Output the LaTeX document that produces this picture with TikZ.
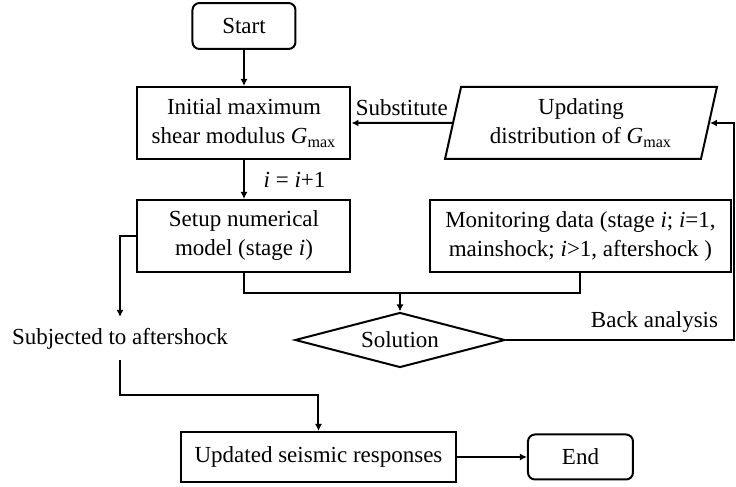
\documentclass[tikz,border=0pt]{standalone}
\usepackage{fontspec}
\setmainfont{Liberation Serif}
\usetikzlibrary{shapes.geometric,arrows.meta}

\newcommand{\Gmax}{\textit{G}\textsubscript{max}}

\begin{document}
\begin{tikzpicture}[x=0.5pt,y=-0.5pt,
  font=\fontsize{11.5}{14.5}\selectfont,
  line width=1pt,
  box/.style={draw,rectangle,align=center,inner sep=0pt},
  term/.style={box,rounded corners=3.5pt},
  arr/.style={-{Latex[length=3.5pt,width=3.5pt]}}]
  \useasboundingbox (0,0) rectangle (736,487);
  \node[term,minimum width=51.5pt,minimum height=23pt] (start) at (244,26) {Start};
  \node[box,minimum width=106.5pt,minimum height=36pt] (init) at (244,123) {Initial maximum\\shear modulus \Gmax};
  \node[draw,trapezium,trapezium left angle=76,trapezium right angle=104,trapezium stretches=true,
        minimum width=136pt,minimum height=36pt,align=center,inner sep=0pt] (updg) at (581,123) {Updating\\distribution of \Gmax};
  \node[box,minimum width=106.5pt,minimum height=36pt] (setup) at (244,236) {Setup numerical\\model (stage \textit{i})};
  \node[box,minimum width=150.5pt,minimum height=36pt] (mon) at (580.5,236) {Monitoring data (stage \textit{i}; \textit{i}=1,\\mainshock; \textit{i}>1, aftershock )};
  \node[draw,diamond,aspect=3.8,inner sep=0pt,minimum width=105pt,minimum height=27.5pt] (sol) at (400,340) {Solution};
  \node[inner sep=0pt,minimum height=20.5pt] (subj) at (120,338.5) {Subjected to aftershock};
  \node[box,minimum width=137.5pt,minimum height=25pt] (upd) at (318.5,457) {Updated seismic responses};
  \node[term,minimum width=52.5pt,minimum height=22.5pt] (stop) at (580.5,457) {End};
  \coordinate (join) at (400,293);
  \coordinate (low) at (120,395);
  \coordinate (rx) at (734.5,340);
  % connectors
  \draw[arr] (start) -- (init);
  \draw[arr] (init) -- node[right=6pt] {\textit{i} = \textit{i}+1} (setup);
  \draw[arr] (updg.west) -- node[above] {Substitute} (init.east);
  \draw[arr] (setup.west) -| (subj.north);
  \draw[arr] (subj.south) -- (low) -| (upd.north);
  \draw (setup.south) |- (join) -| (mon.south);
  \draw[arr] (join) -- (sol.north);
  \draw[arr] (sol.east) -- node[above,pos=0.65] {Back analysis} (rx) |- (updg.east);
  \draw[arr] (upd) -- (stop);
\end{tikzpicture}
\end{document}
